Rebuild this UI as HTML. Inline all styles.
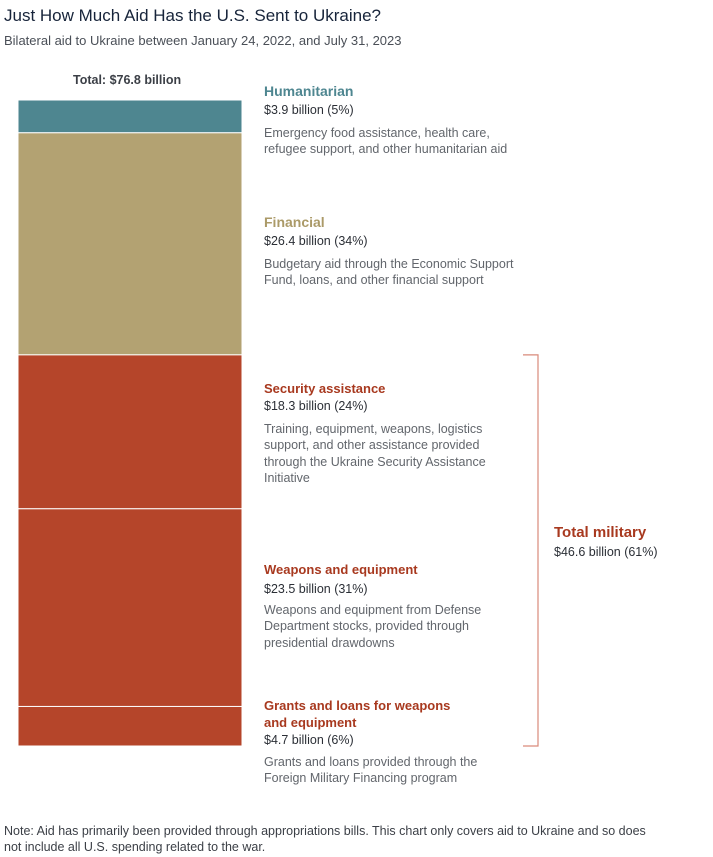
<!DOCTYPE html>
<html><head><meta charset="utf-8"><style>
body{margin:0;width:713px;height:857px;background:#fff;font-family:"Liberation Sans",sans-serif;position:relative;overflow:hidden}
.a{position:absolute;white-space:nowrap}
.h{font-size:14px;font-weight:bold}
.v{font-size:12.5px;color:#2b2f36}
.d{font-size:12.5px;color:#62666c;line-height:16.3px}
</style></head><body>
<div class="a" style="left:4px;top:6px;font-size:17px;color:#17243a">Just How Much Aid Has the U.S. Sent to Ukraine?</div>
<div class="a" style="left:4px;top:33px;font-size:13px;color:#4a4f57">Bilateral aid to Ukraine between January 24, 2022, and July 31, 2023</div>
<div class="a" style="left:73px;top:73px;font-size:12.5px;font-weight:bold;color:#3b3f46">Total: $76.8 billion</div>
<svg id="bar" width="713" height="857" style="position:absolute;left:0;top:0"></svg>

<div class="a h" style="left:264px;top:83px;color:#4e8690">Humanitarian</div>
<div class="a v" style="left:264px;top:103px">$3.9 billion (5%)</div>
<div class="a d" style="left:264px;top:125px">Emergency food assistance, health care,<br>refugee support, and other humanitarian aid</div>

<div class="a h" style="left:264px;top:214px;color:#ab9a68">Financial</div>
<div class="a v" style="left:264px;top:234px">$26.4 billion (34%)</div>
<div class="a d" style="left:264px;top:256px">Budgetary aid through the Economic Support<br>Fund, loans, and other financial support</div>

<div class="a h" style="left:264px;top:381px;color:#a8391f;font-size:13px">Security assistance</div>
<div class="a v" style="left:264px;top:399px">$18.3 billion (24%)</div>
<div class="a d" style="left:264px;top:421px">Training, equipment, weapons, logistics<br>support, and other assistance provided<br>through the Ukraine Security Assistance<br>Initiative</div>

<div class="a h" style="left:264px;top:562px;color:#a8391f;font-size:13px">Weapons and equipment</div>
<div class="a v" style="left:264px;top:582px">$23.5 billion (31%)</div>
<div class="a d" style="left:264px;top:602px">Weapons and equipment from Defense<br>Department stocks, provided through<br>presidential drawdowns</div>

<div class="a h" style="left:264px;top:697px;color:#a8391f;font-size:13px;line-height:17px">Grants and loans for weapons<br>and equipment</div>
<div class="a v" style="left:264px;top:733px">$4.7 billion (6%)</div>
<div class="a d" style="left:264px;top:754px">Grants and loans provided through the<br>Foreign Military Financing program</div>

<div class="a h" style="left:554px;top:524px;color:#a8391f;font-size:15px">Total military</div>
<div class="a v" style="left:554px;top:545px">$46.6 billion (61%)</div>

<div class="a" style="left:4px;top:823px;font-size:12.5px;color:#3b3f46;line-height:16px">Note: Aid has primarily been provided through appropriations bills. This chart only covers aid to Ukraine and so does<br>not include all U.S. spending related to the war.</div>

<script>
const categories=["Humanitarian","Financial","Security assistance","Weapons and equipment","Grants and loans"];
const values=[3.9,26.4,18.3,23.5,4.7];
const colors=["#4e8690","#b3a272","#b5452a","#b5452a","#b5452a"];
const total=values.reduce((a,b)=>a+b,0);
const y0=100,y1=746,x0=18,w=224;
const yScale=v=>y0+(v/total)*(y1-y0);
const svg=document.getElementById('bar');
const ns="http://www.w3.org/2000/svg";
let cum=0,milStart=0;
values.forEach((v,i)=>{
  const r=document.createElementNS(ns,'rect');
  
  
  r.setAttribute('x',x0);r.setAttribute('y',yScale(cum));
  r.setAttribute('width',w);r.setAttribute('height',yScale(cum+v)-yScale(cum));
  r.setAttribute('fill',colors[i]);r.setAttribute('stroke','#fff');r.setAttribute('stroke-width','1');
  svg.appendChild(r);
  if(i===2)milStart=cum;
  cum+=v;
});
const bTop=yScale(milStart),bBot=yScale(total);
const p=document.createElementNS(ns,'path');


p.setAttribute('d',`M523 ${bTop}H538V${bBot}H523`);
p.setAttribute('fill','none');p.setAttribute('stroke','#d98a7a');p.setAttribute('stroke-width','1.2');
svg.appendChild(p);
</script>
</body></html>
